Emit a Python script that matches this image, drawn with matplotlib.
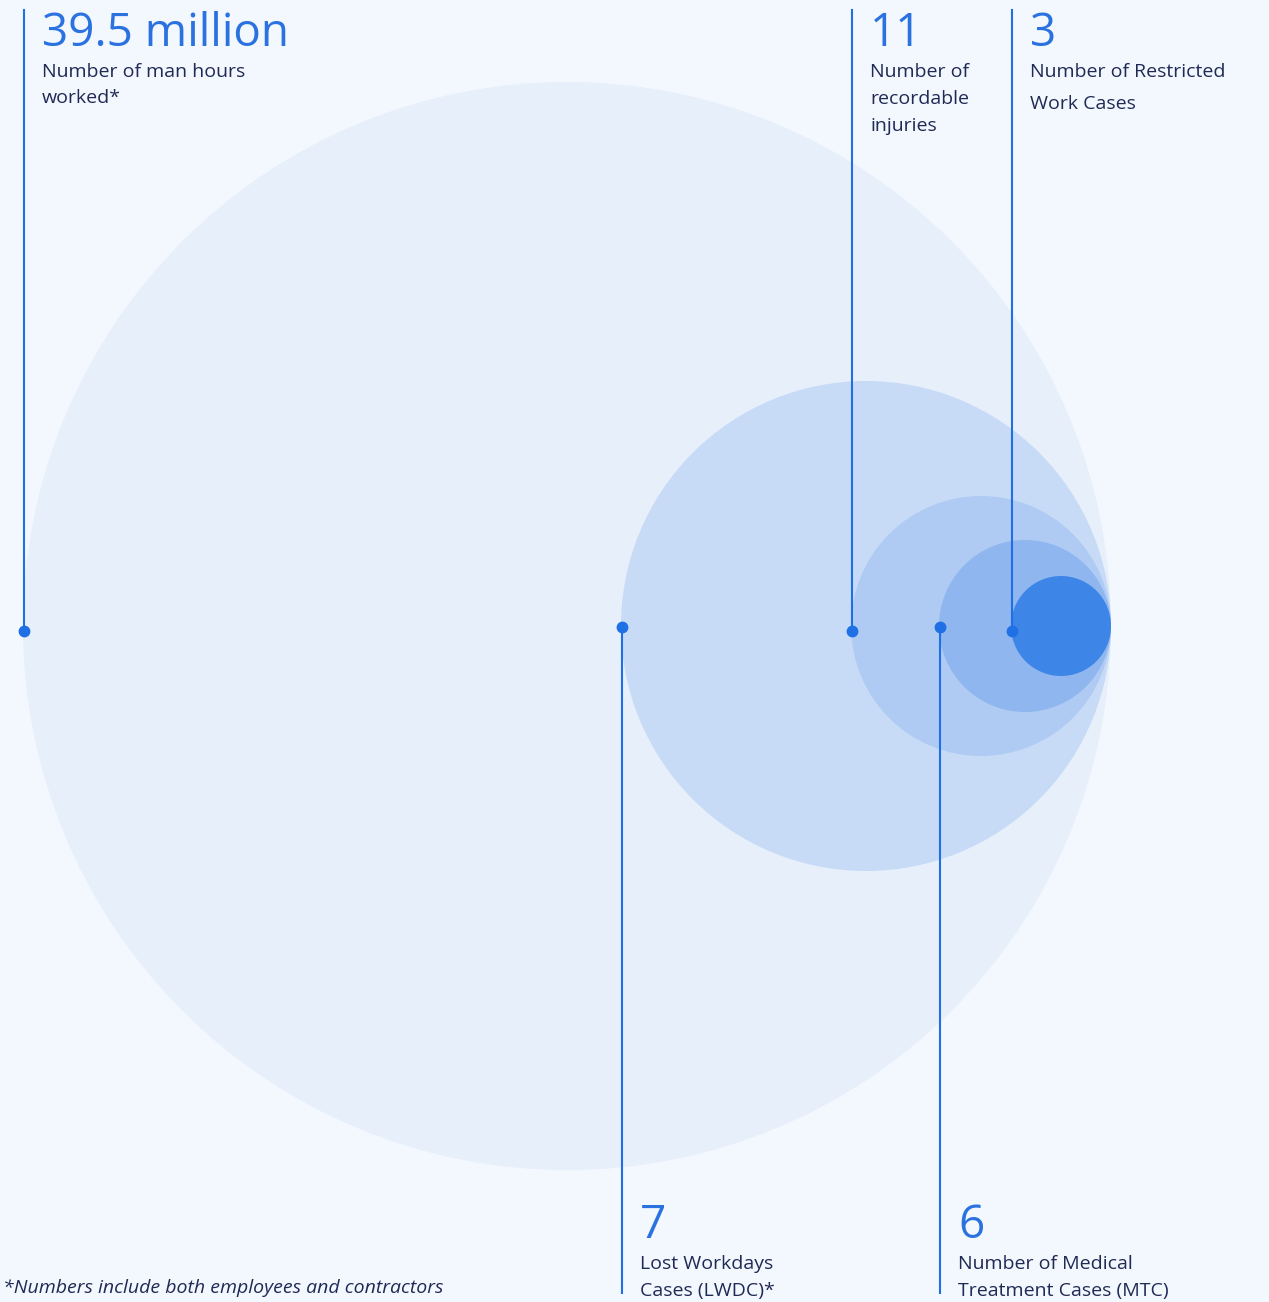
import matplotlib
matplotlib.use('Agg')
import matplotlib.pyplot as plt
from matplotlib.patches import Circle

plt.rcParams['font.family'] = ['Open Sans', 'DejaVu Sans']

# headline figures and their captions
values = ['39.5 million', '7', '11', '6', '3']
captions = [
    ['Number of man hours', 'worked*'],
    ['Lost Workdays', 'Cases (LWDC)*'],
    ['Number of', 'recordable', 'injuries'],
    ['Number of Medical', 'Treatment Cases (MTC)'],
    ['Number of Restricted', 'Work Cases'],
]
footnote = '*Numbers include both employees and contractors'

# layout: bubble radii (px), all bubbles touch at the same right-hand point
radii = [544, 245, 130, 86, 50]
bubble_colors = ['#e7effb', '#c7dbf6', '#afcbf3', '#8fb6ef', '#3d85e6']
label_side = ['top', 'bottom', 'top', 'bottom', 'top']
line_gap = [26, 26, 27, 26, 32]

W, H = 1269, 1302
tangent_x, cy = 1111, 626
bg = '#f3f7fe'
blue = '#1f6fe5'
navy = '#1f2a55'

fig = plt.figure(figsize=(W / 100, H / 100), dpi=100, facecolor=bg)
ax = fig.add_axes([0, 0, 1, 1])
ax.set_xlim(0, W)
ax.set_ylim(H, 0)
ax.set_aspect('equal')
ax.axis('off')
ax.set_facecolor(bg)

for r, c in zip(radii, bubble_colors):
    ax.add_patch(Circle((tangent_x - r, cy), r, facecolor=c, edgecolor='none', zorder=1))

for i, r in enumerate(radii):
    # leader line starts at the bubble's left edge
    x = tangent_x - 2 * r + 1
    if label_side[i] == 'top':
        dot_y = cy + 5
        ax.plot([x, x], [10, dot_y], color=blue, lw=1.5, zorder=3)
        num_base = 46
    else:
        dot_y = cy + 1
        ax.plot([x, x], [dot_y, 1293], color=blue, lw=1.5, zorder=3)
        num_base = 1238
    ax.plot(x, dot_y, 'o', color=blue, markersize=7.5, zorder=4)
    tx = x + 18
    ax.text(tx, num_base, values[i], color='#2a72e0', fontsize=33,
            va='baseline', ha='left')
    for j, line in enumerate(captions[i]):
        yb = num_base + 31 + j * line_gap[i] + (1 if label_side[i] == 'bottom' and j else 0)
        ax.text(tx, yb, line, color=navy, fontsize=14, va='baseline', ha='left')

ax.text(443, 1293, footnote, color=navy, fontsize=14, style='italic',
        va='baseline', ha='right')

fig.savefig('out.png', dpi=100, facecolor=bg)
